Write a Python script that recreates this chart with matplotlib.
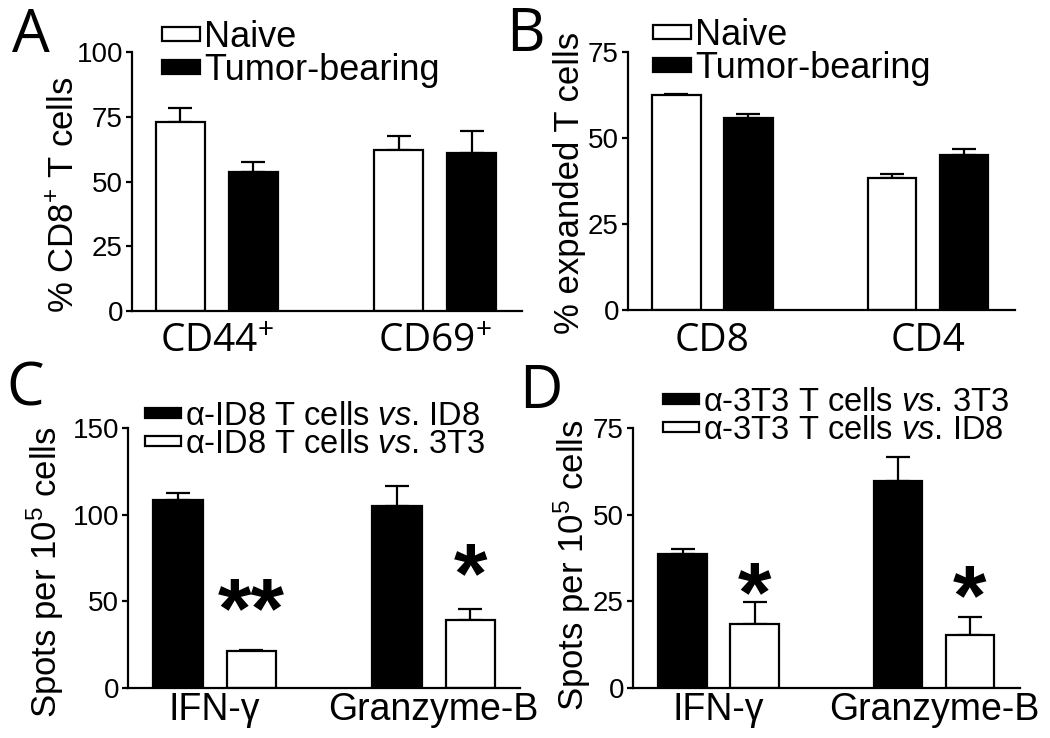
import matplotlib
matplotlib.use('Agg')
import matplotlib.pyplot as plt
import numpy as np

plt.rcParams['font.family'] = ['Liberation Sans', 'DejaVu Sans']
plt.rcParams['mathtext.fontset'] = 'custom'
plt.rcParams['mathtext.rm'] = 'Liberation Sans'
plt.rcParams['mathtext.it'] = 'Liberation Sans:italic'

# ---- data ----
# panel A
a_cats = ['CD44$^{+}$', 'CD69$^{+}$']
a_naive = [73.0, 62.0]
a_naive_err = [5.5, 5.4]
a_tumor = [53.8, 61.0]
a_tumor_err = [3.6, 8.6]

# panel B
b_cats = ['CD8', 'CD4']
b_naive = [62.5, 38.5]
b_naive_err = [0.3, 0.9]
b_tumor = [55.7, 45.1]
b_tumor_err = [1.4, 1.7]

# panel C
c_cats = ['IFN-γ', 'Granzyme-B']
c_vs_id8 = [108.5, 105.2]
c_vs_id8_err = [4.2, 11.3]
c_vs_3t3 = [21.5, 39.2]
c_vs_3t3_err = [0.5, 6.4]
c_stars = ['**', '*']
c_star_y = [42, 62]

# panel D
d_cats = ['IFN-γ', 'Granzyme-B']
d_vs_3t3 = [38.7, 59.8]
d_vs_3t3_err = [1.3, 6.9]
d_vs_id8 = [18.5, 15.3]
d_vs_id8_err = [6.4, 5.1]
d_stars = ['*', '*']
d_star_y = [25.6, 24.8]

W, H = 1050, 738
fig = plt.figure(figsize=(W / 100, H / 100), dpi=100)


def px_axes(l, r, top, bottom):
    return fig.add_axes([l / W, 1 - bottom / H, (r - l) / W, (bottom - top) / H])


def draw_panel(ax, cats, s1, e1, s2, e2, c1, c2, ymax, yticks, xlim):
    x = np.arange(len(cats))
    off, w = 0.167, 0.226
    b1 = ax.bar(x - off, s1, w, color=c1, edgecolor='black', linewidth=1.6, zorder=2)
    b2 = ax.bar(x + off, s2, w, color=c2, edgecolor='black', linewidth=1.6, zorder=2)
    ax.errorbar(x - off, s1, yerr=[np.zeros(len(s1)), e1], fmt='none', ecolor='black',
                elinewidth=1.6, capsize=8.5, capthick=1.6, zorder=1)
    ax.errorbar(x + off, s2, yerr=[np.zeros(len(s2)), e2], fmt='none', ecolor='black',
                elinewidth=1.6, capsize=8.5, capthick=1.6, zorder=1)
    ax.set_ylim(0, ymax)
    ax.set_xlim(*xlim)
    ax.set_yticks(yticks)
    ax.set_yticklabels([str(t) for t in yticks], fontsize=20)
    ax.spines['top'].set_visible(False)
    ax.spines['right'].set_visible(False)
    ax.spines['left'].set_linewidth(1.6)
    ax.spines['bottom'].set_linewidth(1.6)
    ax.tick_params(axis='y', direction='out', length=4.5, width=1.6, pad=2)
    ax.set_xticks(x)
    return b1, b2, x, off


# A
axA = px_axes(132, 522, 52, 311)
bA1, bA2, _, _ = draw_panel(axA, a_cats, a_naive, a_naive_err, a_tumor, a_tumor_err,
                            'white', 'black', 100, [0, 25, 50, 75, 100], (-0.388, 1.397))
axA.set_xticklabels(a_cats, family=['Open Sans', 'DejaVu Sans'], fontsize=28)
axA.tick_params(axis='x', length=0, pad=9)
axA.legend([bA1, bA2], ['Naive', 'Tumor-bearing'], loc='upper left',
           bbox_to_anchor=(162 / W, 1 - 20 / H), bbox_transform=fig.transFigure,
           frameon=False, fontsize=26, handlelength=1.05, handleheight=0.22,
           handletextpad=0.12, labelspacing=-0.05, borderpad=0, borderaxespad=0)

# B
axB = px_axes(628, 1015, 52, 310)
bB1, bB2, _, _ = draw_panel(axB, b_cats, b_naive, b_naive_err, b_tumor, b_tumor_err,
                            'white', 'black', 75, [0, 25, 50, 75], (-0.392, 1.404))
axB.set_xticklabels(b_cats, family=['Open Sans', 'DejaVu Sans'], fontsize=28)
axB.tick_params(axis='x', length=0, pad=9)
axB.legend([bB1, bB2], ['Naive', 'Tumor-bearing'], loc='upper left',
           bbox_to_anchor=(653 / W, 1 - 18 / H), bbox_transform=fig.transFigure,
           frameon=False, fontsize=26, handlelength=1.05, handleheight=0.22,
           handletextpad=0.12, labelspacing=-0.05, borderpad=0, borderaxespad=0)

# C
axC = px_axes(128, 520, 428, 688)
bC1, bC2, xC, offC = draw_panel(axC, c_cats, c_vs_id8, c_vs_id8_err, c_vs_3t3, c_vs_3t3_err,
                                'black', 'white', 150, [0, 50, 100, 150], (-0.396, 1.394))
axC.set_xticklabels(c_cats, fontsize=27)
axC.tick_params(axis='x', length=0, pad=3)
axC.legend([bC1, bC2], ['α-ID8 T cells $\\mathit{vs}$. ID8', 'α-ID8 T cells $\\mathit{vs}$. 3T3'],
           loc='upper left', bbox_to_anchor=(145 / W, 1 - 401 / H), bbox_transform=fig.transFigure,
           frameon=False, fontsize=23.5, handlelength=1.1, handleheight=0.1,
           handletextpad=0.12, labelspacing=-0.1, borderpad=0, borderaxespad=0)
for xi, s, yy in zip(xC + offC, c_stars, c_star_y):
    axC.text(xi, yy, s, ha='center', va='center', fontsize=62, fontweight='bold')

# D
axD = px_axes(633, 1020, 428, 688)
bD1, bD2, xD, offD = draw_panel(axD, d_cats, d_vs_3t3, d_vs_3t3_err, d_vs_id8, d_vs_id8_err,
                                'black', 'white', 75, [0, 25, 50, 75], (-0.397, 1.399))
axD.set_xticklabels(d_cats, fontsize=27)
axD.tick_params(axis='x', length=0, pad=3)
axD.legend([bD1, bD2], ['α-3T3 T cells $\\mathit{vs}$. 3T3', 'α-3T3 T cells $\\mathit{vs}$. ID8'],
           loc='upper left', bbox_to_anchor=(663 / W, 1 - 387 / H), bbox_transform=fig.transFigure,
           frameon=False, fontsize=23.5, handlelength=1.1, handleheight=0.1,
           handletextpad=0.12, labelspacing=-0.1, borderpad=0, borderaxespad=0)
for xi, s, yy in zip(xD + offD, d_stars, d_star_y):
    axD.text(xi, yy, s, ha='center', va='center', fontsize=62, fontweight='bold')

# y labels
fig.text(64 / W, 1 - 195 / H, '% CD8$^{+}$ T cells', rotation=90, ha='center', va='center', fontsize=25)
fig.text(569 / W, 1 - 183 / H, '% expanded T cells', rotation=90, ha='center', va='center', fontsize=25)
fig.text(45 / W, 1 - 572 / H, 'Spots per 10$^{5}$ cells', rotation=90, ha='center', va='center', fontsize=25)
fig.text(572 / W, 1 - 565 / H, 'Spots per 10$^{5}$ cells', rotation=90, ha='center', va='center', fontsize=25)

# panel letters
for lab, px, py in [('A', 31, 36), ('B', 525, 35), ('C', 25, 389), ('D', 541, 392)]:
    fig.text(px / W, 1 - py / H, lab, ha='center', va='center', fontsize=43,
             family=['Open Sans', 'DejaVu Sans'])

fig.savefig('out.png', dpi=100)
